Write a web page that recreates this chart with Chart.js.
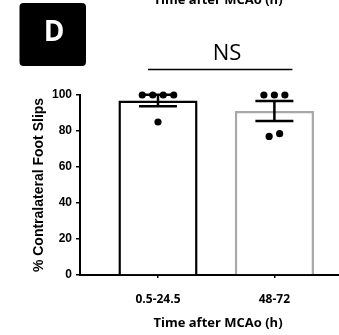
<!DOCTYPE html>
<html><head><meta charset="utf-8">
<script src="https://cdn.jsdelivr.net/npm/chart.js@4"></script>
<style>html,body{margin:0;padding:0;background:#fff;overflow:hidden}canvas{display:block}</style>
</head><body>
<canvas id="c" width="339" height="335"></canvas>
<script>
// ---- data ----
const categories = ['0.5-24.5', '48-72'];
const means = [97, 91.1];
const sems = [3.2, 5.5];
const points1 = [100, 100, 100, 100, 85];
const points2 = [100, 100, 100, 77, 78.5];
const yTicks = [0, 20, 40, 60, 80, 100];
const sigLabel = 'NS';
const panelLabel = 'D';
const xTitle = 'Time after MCAo (h)';
const yTitle = '% Contralateral Foot Slips';
const barColors = ['#000000', '#a8a8a8'];

const groups = [points1, points2];

const overlay = {
  id: 'overlay',
  afterDatasetsDraw(chart) {
    const {ctx, scales: {x, y}} = chart;
    ctx.save();
    // error bars (mean ± SEM)
    ctx.strokeStyle = '#000';
    ctx.lineWidth = 2.5;
    means.forEach((m, i) => {
      const cx = x.getPixelForValue(i);
      const yt = y.getPixelForValue(m + sems[i]);
      const yb = y.getPixelForValue(m - sems[i]);
      const hw = 19;
      ctx.beginPath();
      ctx.moveTo(cx, yt); ctx.lineTo(cx, yb);
      ctx.moveTo(cx - hw, yt); ctx.lineTo(cx + hw, yt);
      ctx.moveTo(cx - hw, yb); ctx.lineTo(cx + hw, yb);
      ctx.stroke();
    });
    // individual points, swarm layout
    ctx.fillStyle = '#000';
    const r = 3.6, gap = 10.5;
    groups.forEach((pts, i) => {
      const cx = x.getPixelForValue(i);
      const sorted = pts.map(v => ({v, py: y.getPixelForValue(v)})).sort((a, b) => a.py - b.py);
      const clusters = [];
      sorted.forEach(p => {
        const c = clusters[clusters.length - 1];
        if (c && p.py - c[c.length - 1].py < 2 * r) c.push(p); else clusters.push([p]);
      });
      clusters.forEach(c => {
        c.sort((a, b) => b.py - a.py);
        c.forEach((p, k) => {
          const px = cx + (k - (c.length - 1) / 2) * gap;
          ctx.beginPath();
          ctx.arc(px, p.py, r, 0, Math.PI * 2);
          ctx.fill();
        });
      });
    });
    ctx.restore();
  },
  afterDraw(chart) {
    const {ctx, scales: {x}} = chart;
    ctx.save();
    // significance bracket
    const x0 = x.getPixelForValue(0) - 10, x1 = x.getPixelForValue(1) + 18;
    ctx.strokeStyle = '#000';
    ctx.lineWidth = 1.5;
    ctx.beginPath();
    ctx.moveTo(x0, 69.5); ctx.lineTo(x1, 69.5);
    ctx.stroke();
    ctx.fillStyle = '#000';
    ctx.textAlign = 'center';
    ctx.textBaseline = 'middle';
    ctx.font = '22px "Open Sans"';
    ctx.fillText(sigLabel, 227, 54);
    // panel label
    ctx.beginPath();
    ctx.roundRect(19.5, 3, 66.5, 63, 4);
    ctx.fill();
    ctx.fillStyle = '#fff';
    ctx.font = 'bold 28px "Open Sans"';
    ctx.fillText(panelLabel, 54, 33);
    // x title
    ctx.fillStyle = '#000';
    ctx.font = 'bold 13px "Open Sans"';
    ctx.fillText(xTitle, 218, 323);
    // cropped title of the panel above
    ctx.textBaseline = 'alphabetic';
    ctx.fillText(xTitle, 218, 4);
    ctx.restore();
  }
};

new Chart(document.getElementById('c'), {
  data: {
    datasets: [{
      type: 'bar',
      data: means.map((m, i) => ({x: i, y: m})),
      backgroundColor: '#ffffff',
      borderColor: barColors,
      borderWidth: 2.5,
      barPercentage: 0.68,
      categoryPercentage: 1
    }]
  },
  options: {
    responsive: false,
    devicePixelRatio: 1,
    animation: false,
    layout: {padding: {top: 95, left: 0, right: 0, bottom: 0}},
    plugins: {legend: {display: false}, tooltip: {enabled: false}},
    scales: {
      x: {
        type: 'linear',
        offset: false,
        min: -0.67,
        max: 1.555,
        afterBuildTicks: s => { s.ticks = categories.map((c, i) => ({value: i})); },
        afterFit: s => { s.height = 60; },
        grid: {offset: false, drawOnChartArea: false, drawTicks: true, tickLength: 3, color: '#000', lineWidth: 1.5},
        border: {display: true, color: '#000', width: 2},
        ticks: {
          callback: v => categories[v],
          color: '#000',
          font: {family: '"Open Sans"', size: 12, weight: 'bold'},
          padding: 14,
          maxRotation: 0,
          autoSkip: false
        }
      },
      y: {
        min: 0,
        max: 100,
        afterBuildTicks: s => { s.ticks = yTicks.map(v => ({value: v})); },
        afterFit: s => { s.width = 80; },
        grid: {drawOnChartArea: false, drawTicks: true, tickLength: 4, color: '#000', lineWidth: 1.5},
        border: {display: true, color: '#000', width: 2},
        ticks: {
          color: '#000',
          font: {family: '"Liberation Sans", Arial', size: 12, weight: 'bold'},
          padding: 4
        },
        title: {
          display: true,
          text: yTitle,
          color: '#000',
          font: {family: '"Liberation Sans", Arial', size: 14, weight: 'bold'},
          padding: {top: 30.6, bottom: 0}
        }
      }
    }
  },
  plugins: [overlay]
});
</script>
</body></html>
